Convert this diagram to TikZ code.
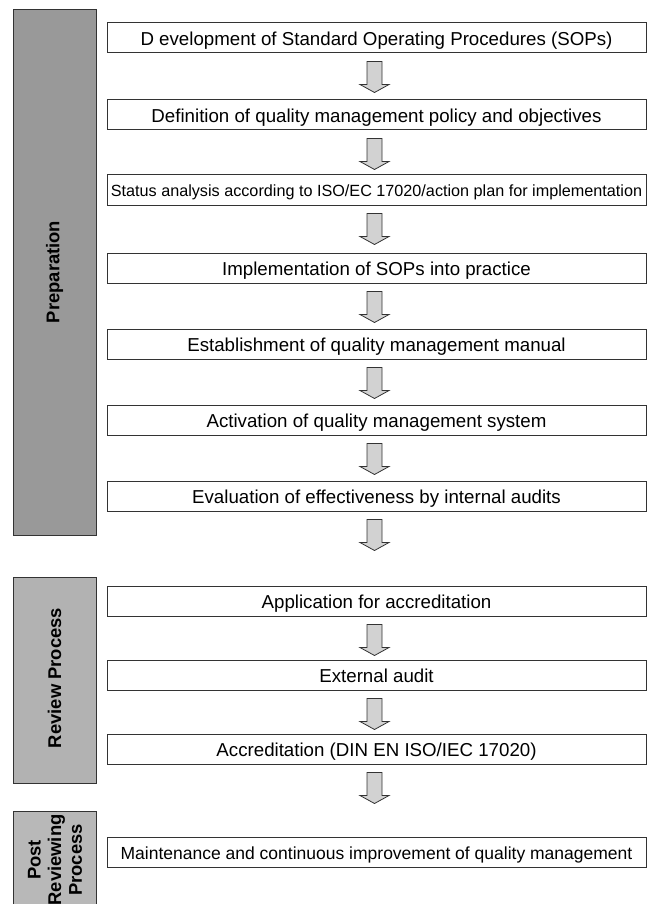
\documentclass[tikz,border=0pt]{standalone}
\usepackage{fontspec}
\setmainfont{Liberation Sans}
\usetikzlibrary{calc}
\definecolor{prepgray}{HTML}{999999}
\definecolor{revgray}{HTML}{B2B2B2}
\definecolor{postgray}{HTML}{B8B8B8}
\definecolor{arrowgray}{HTML}{D2D2D2}
\definecolor{linegray}{HTML}{333333}
\begin{document}
\begin{tikzpicture}[x=1pt,y=-1pt,
  stepbox/.style={draw=linegray, line width=1pt, fill=white, minimum width=539pt,
    minimum height=30pt, inner sep=0pt, text height=18pt, text depth=2.6pt,
    font=\fontsize{18.7}{22}\selectfont},
  phasebar/.style={draw=linegray, line width=1pt},
  phaselabel/.style={rotate=90, inner sep=0pt, align=center,
    font=\fontsize{18.4}{20.7}\selectfont\bfseries},
  blockarrow/.pic={\draw[fill=arrowgray, draw=linegray, line width=0.8pt, line join=miter]
    (-7.5,0) -- (7.5,0) -- (7.5,23) -- (14.5,23) -- (0,31) -- (-14.5,23) -- (-7.5,23) -- cycle;}
]
\useasboundingbox (0,0) rectangle (650,904);
\clip (0,0) rectangle (650,904);
\fill[white] (0,0) rectangle (650,904);

% phase bars
\draw[phasebar, fill=prepgray] (13,10) rectangle (96,535);
\node[phaselabel] (prep) at (54.5,272) {Preparation};
\draw[phasebar, fill=revgray] (13,577) rectangle (96,783);
\node[phaselabel] (rev) at (54.5,678) {Review Process};
\draw[phasebar, fill=postgray] (13,811) rectangle (96,920);
\node[phaselabel] (post) at (55,860) {Post\\Reviewing\\Process};

% preparation steps
\node[stepbox] (p1) at (376.5,38) {D evelopment of Standard Operating Procedures (SOPs)};
\node[stepbox] (p2) at (376.5,115) {Definition of quality management policy and objectives};
\node[stepbox, text height=16pt, text depth=2.4pt, font=\fontsize{16.2}{19}\selectfont] (p3) at (376.5,190) {Status analysis according to ISO/EC 17020/action plan for implementation};
\node[stepbox] (p4) at (376.5,268) {Implementation of SOPs into practice};
\node[stepbox] (p5) at (376.5,344) {Establishment of quality management manual};
\node[stepbox] (p6) at (376.5,420) {Activation of quality management system};
\node[stepbox] (p7) at (376.5,496) {Evaluation of effectiveness by internal audits};

% review steps
\node[stepbox] (r1) at (376.5,601) {Application for accreditation};
\node[stepbox] (r2) at (376.5,675) {External audit};
\node[stepbox] (r3) at (376.5,749) {Accreditation (DIN EN ISO/IEC 17020)};

% post reviewing
\node[stepbox, text height=17pt, text depth=2.4pt, font=\fontsize{17.5}{20}\selectfont] (m1) at (376.5,852) {Maintenance and continuous improvement of quality management};

% arrows
\foreach \n in {p1,p2,p3,p4,p5,p6,p7,r1,r2,r3}
  \pic at ($(\n.south)+(-2,8)$) {blockarrow};
\end{tikzpicture}
\end{document}
